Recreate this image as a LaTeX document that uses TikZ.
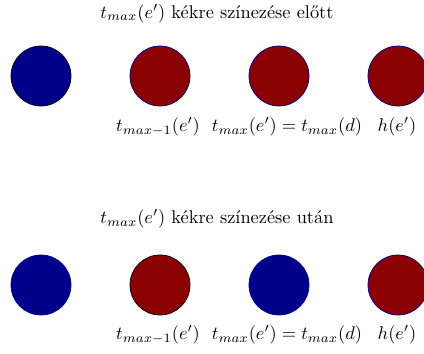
\documentclass[tikz,border=0pt]{standalone}
\usepackage{fontspec}
\definecolor{kek}{RGB}{0,0,139}
\definecolor{piros}{RGB}{139,0,0}
\begin{document}
\begin{tikzpicture}[x=0.544pt,y=-0.544pt,
  ball/.style={circle,minimum size=60*0.544pt,inner sep=0pt,line width=0.4pt},
  kekball/.style={ball,fill=kek,draw=kek},
  pirosball/.style={ball,fill=piros,draw=kek},
  lbl/.style={inner sep=0pt}]
\useasboundingbox (0,0) rectangle (424,353);
% top row
\node[lbl] (t1) at (217,13.5) {$t_{max}(e')$ kékre színezése előtt};
\node[kekball,draw=black] (a1) at (41,76) {};
\node[pirosball] (a2) at (160,76) {};
\node[pirosball] (a3) at (279,76) {};
\node[pirosball] (a4) at (398,76) {};
\node[lbl] (la2) at (158,127) {$t_{max-1}(e')$};
\node[lbl] (la3) at (287,127) {$t_{max}(e')=t_{max}(d)$};
\node[lbl] (la4) at (397,127) {$h(e')$};
% bottom row
\node[lbl] (t2) at (217,219) {$t_{max}(e')$ kékre színezése után};
\node[kekball] (b1) at (41,285) {};
\node[pirosball,draw=black] (b2) at (160,285) {};
\node[kekball] (b3) at (279,285) {};
\node[pirosball] (b4) at (398,285) {};
\node[lbl] (lb2) at (158,335) {$t_{max-1}(e')$};
\node[lbl] (lb3) at (287,335) {$t_{max}(e')=t_{max}(d)$};
\node[lbl] (lb4) at (397,335) {$h(e')$};
\end{tikzpicture}
\end{document}
